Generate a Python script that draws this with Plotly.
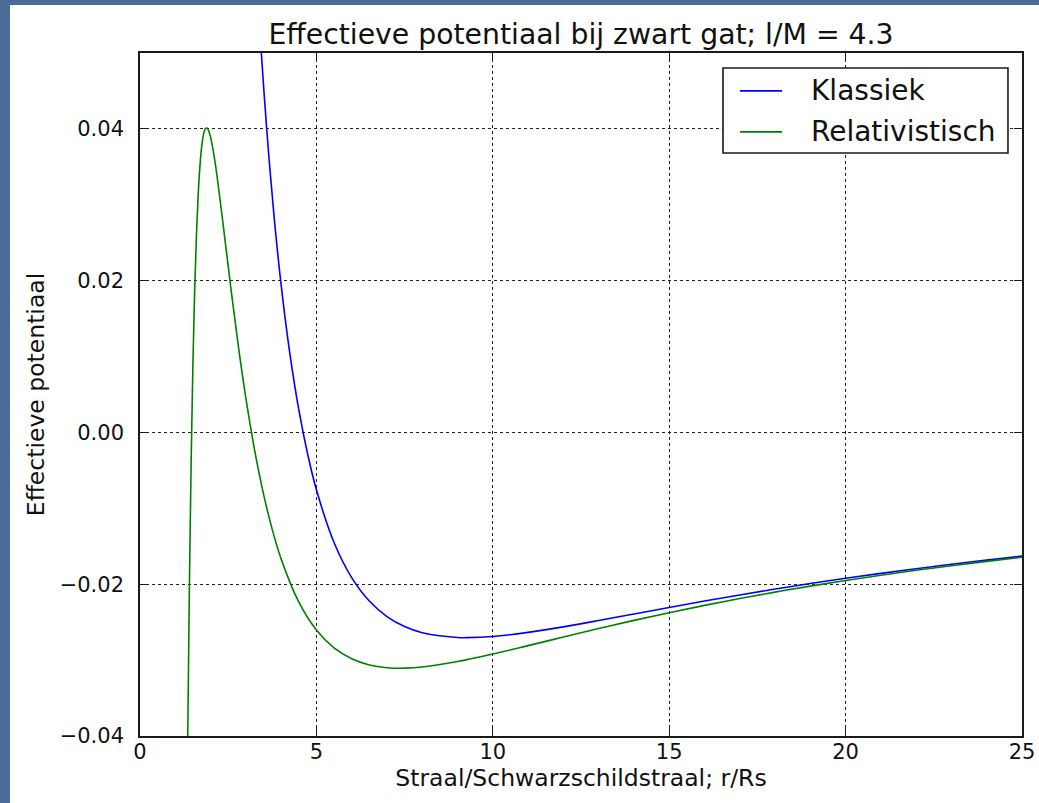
import plotly.graph_objects as go

# r/Rs sample positions and effective potential values, classical (Newtonian) curve
r_klassiek = [3.30, 3.44, 3.6, 3.8, 4.0, 4.25, 4.5, 4.75, 5.0, 5.5, 6.0, 6.5, 7.0, 7.5,
              8.0, 9.0, 9.25, 10, 11, 12, 13, 14, 15, 16, 17, 18, 19, 20, 21, 22, 23, 24, 25]
v_klassiek = [0.06072, 0.04996, 0.03945, 0.02848, 0.01945, 0.01031, 0.00303, -0.00282,
              -0.00755, -0.01450, -0.01913, -0.02222, -0.02426, -0.02558, -0.02639,
              -0.02702, -0.02704, -0.02689, -0.02635, -0.02562, -0.02479, -0.02392,
              -0.02306, -0.02222, -0.02142, -0.02064, -0.01991, -0.01922, -0.01857,
              -0.01795, -0.01737, -0.01682, -0.01630]

# relativistic (Schwarzschild) curve
r_relativistisch = [1.30, 1.35, 1.40, 1.45, 1.50, 1.55, 1.60, 1.65, 1.70, 1.75, 1.80, 1.85,
                    1.90, 1.95, 2.0, 2.1, 2.2, 2.4, 2.6, 2.8, 3.0, 3.25, 3.5, 3.75, 4.0,
                    4.5, 5.0, 5.5, 6.0, 6.5, 7.0, 7.5, 8.0, 9.0, 10, 11, 12, 13, 14, 15,
                    16, 17, 18, 19, 20, 21, 22, 23, 24, 25]
v_relativistisch = [-0.06902, -0.04158, -0.02022, -0.00367, 0.00907, 0.01877, 0.02606,
                    0.03140, 0.03519, 0.03773, 0.03927, 0.04001, 0.04011, 0.03970,
                    0.03891, 0.03643, 0.03320, 0.02574, 0.01809, 0.01094, 0.00454,
                    -0.00236, -0.00809, -0.01281, -0.01666, -0.02234, -0.02604,
                    -0.02840, -0.02983, -0.03064, -0.03100, -0.03106, -0.03090,
                    -0.03019, -0.02920, -0.02809, -0.02696, -0.02584, -0.02476,
                    -0.02375, -0.02279, -0.02189, -0.02104, -0.02025, -0.01951,
                    -0.01882, -0.01817, -0.01756, -0.01699, -0.01645]

series_names = ["Klassiek", "Relativistisch"]
series_colors = ["#0000ff", "#008000"]

x_ticks = [0, 5, 10, 15, 20, 25]
x_ticktext = ["0", "5", "10", "15", "20", "25"]
y_ticks = [-0.04, -0.02, 0.0, 0.02, 0.04]
y_ticktext = ["\u22120.04", "\u22120.02", "0.00", "0.02", "0.04"]

FONT = "DejaVu Sans"
INK = "#111111"

fig = go.Figure()
for xs, ys, name, color in zip([r_klassiek, r_relativistisch],
                               [v_klassiek, v_relativistisch],
                               series_names, series_colors):
    fig.add_trace(go.Scatter(x=xs, y=ys, mode="lines", name=name, showlegend=False,
                             line=dict(color=color, width=1.6, shape="spline", smoothing=1)))

axis_common = dict(
    showline=True, linecolor="#1a1a1a", linewidth=1.6, mirror="allticks",
    ticks="inside", ticklen=8, tickwidth=1.2, tickcolor="#1a1a1a",
    showgrid=True, gridcolor="#222222", gridwidth=1, griddash="dot",
    zeroline=False, automargin=False,
    tickfont=dict(family=FONT, size=21, color=INK),
)

fig.update_xaxes(range=[0, 25], tickvals=x_ticks, ticktext=x_ticktext,
                 ticklabelstandoff=-4,
                 title=dict(text="Straal/Schwarzschildstraal; r/Rs", standoff=5,
                            font=dict(family=FONT, size=23.5, color=INK)),
                 **axis_common)
fig.update_yaxes(range=[-0.04, 0.05], tickvals=y_ticks, ticktext=y_ticktext,
                 ticklabelstandoff=10,
                 title=dict(text="Effectieve potentiaal", standoff=8,
                            font=dict(family=FONT, size=23.5, color=INK)),
                 **axis_common)

# white slide panel behind the axes
fig.add_shape(type="rect", xref="paper", yref="paper", x0=-0.1474, x1=1.05,
              y0=-0.15, y1=1.0703, fillcolor="white", line=dict(width=0), layer="below")

# legend box in the upper right corner of the axes
leg_x0, leg_x1, leg_y0, leg_y1 = 0.661, 0.9841, 0.8536, 0.978
fig.add_shape(type="rect", xref="paper", yref="paper", x0=leg_x0, x1=leg_x1,
              y0=leg_y0, y1=leg_y1, fillcolor="white",
              line=dict(color="#1a1a1a", width=1.6), layer="above")
entry_rows = [0.9445, 0.8845]
for row_y, name, color in zip(entry_rows, series_names, series_colors):
    fig.add_shape(type="line", xref="paper", yref="paper", x0=0.6803, x1=0.7279,
                  y0=row_y, y1=row_y, line=dict(color=color, width=1.6), layer="above")
    fig.add_annotation(x=0.7585, y=row_y, xref="paper", yref="paper", text=name,
                       showarrow=False, xanchor="left", yanchor="middle",
                       font=dict(family=FONT, size=28, color=INK))

fig.update_layout(
    width=1039, height=803,
    margin=dict(l=140, r=17, t=53, b=67),
    paper_bgcolor="#4b6c99", plot_bgcolor="white",
    title=dict(text="Effectieve potentiaal bij zwart gat; l/M = 4.3",
               x=0.5, xref="paper", y=1 - 34 / 803, yref="container",
               xanchor="center", yanchor="middle",
               font=dict(family=FONT, size=28.3, color=INK)),
    showlegend=False,
)

fig.write_html("out.html")
